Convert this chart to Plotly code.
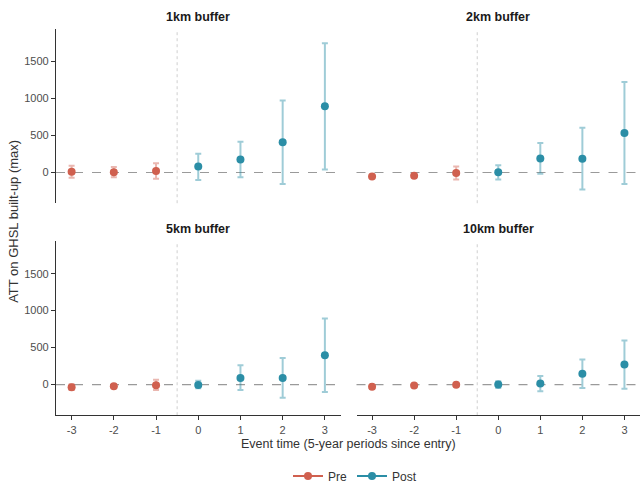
import plotly.graph_objects as go

periods = [-3, -2, -1, 0, 1, 2, 3]
panels = ["1km buffer", "2km buffer", "5km buffer", "10km buffer"]

est_1km = [10, 5, 20, 80, 175, 410, 895]
lo_1km = [-70, -65, -85, -100, -65, -155, 40]
hi_1km = [90, 75, 125, 255, 415, 975, 1750]

est_2km = [-55, -45, -5, 5, 190, 185, 535]
lo_2km = [-70, -62, -95, -95, -15, -230, -155]
hi_2km = [-40, -30, 80, 100, 400, 605, 1225]

est_5km = [-35, -22, -10, -5, 90, 90, 395]
lo_5km = [-75, -45, -75, -50, -75, -180, -100]
hi_5km = [5, 0, 65, 50, 260, 360, 895]

est_10km = [-31, -13, -2, 0, 15, 145, 270]
lo_10km = [-60, -30, -20, -45, -90, -45, -55]
hi_10km = [-5, 0, 15, 45, 115, 340, 595]

series = [(est_1km, lo_1km, hi_1km), (est_2km, lo_2km, hi_2km),
          (est_5km, lo_5km, hi_5km), (est_10km, lo_10km, hi_10km)]

PRE_C = "#D0604F"
POST_C = "#2B8EA6"
PRE_ERR = "rgba(208,96,79,0.45)"
POST_ERR = "rgba(43,142,166,0.45)"

W, H = 640, 491
xdom = [[56 / W, 340.5 / W], [356.5 / W, 1.0]]
ydom = [[1 - 207 / H, 1 - 30 / H], [1 - 423 / H, 1 - 246 / H]]

fig = go.Figure()
FONT = "Liberation Sans, Arial, sans-serif"

for i, (est, lo, hi) in enumerate(series):
    n = i + 1
    xa = "x" if n == 1 else f"x{n}"
    ya = "y" if n == 1 else f"y{n}"
    for grp, col, ecol in (("Pre", PRE_C, PRE_ERR), ("Post", POST_C, POST_ERR)):
        idx = [k for k, p in enumerate(periods) if (p < 0) == (grp == "Pre")]
        xs = [periods[k] for k in idx]
        ys = [est[k] for k in idx]
        ep = [hi[k] - est[k] for k in idx]
        em = [est[k] - lo[k] for k in idx]
        fig.add_trace(go.Scatter(
            x=xs, y=ys, mode="markers", xaxis=xa, yaxis=ya, showlegend=False,
            marker=dict(color=col, size=8, line=dict(width=0)),
            error_y=dict(type="data", array=ep, arrayminus=em, color=ecol,
                         thickness=2, width=3),
            hoverinfo="skip"))
    r, c = divmod(i, 2)
    fig.update_layout(**{
        ("xaxis" if n == 1 else f"xaxis{n}"): dict(
            domain=xdom[c], range=[-3.37, 3.37], anchor=ya,
            showgrid=False, zeroline=False,
            showline=(r == 1), linecolor="#333", linewidth=1.3,
            ticks="outside" if r == 1 else "", ticklen=4, tickcolor="#333",
            tickwidth=1, showticklabels=(r == 1),
            tickvals=periods, ticktext=[str(p) for p in periods],
            tickfont=dict(size=11, color="#4d4d4d", family=FONT)),
        ("yaxis" if n == 1 else f"yaxis{n}"): dict(
            domain=ydom[r], range=[-415, 1935], anchor=xa,
            showgrid=False, zeroline=False,
            showline=(c == 0), linecolor="#333", linewidth=1.3,
            ticks="outside" if c == 0 else "", ticklen=4, tickcolor="#333",
            tickwidth=1, showticklabels=(c == 0),
            tickvals=[0, 500, 1000, 1500],
            tickfont=dict(size=11, color="#4d4d4d", family=FONT)),
    })
    fig.add_shape(type="line", xref=f"{xa} domain", yref=ya, x0=0, x1=1, y0=0, y1=0,
                  line=dict(color="#9a9a9a", width=1.2, dash="dash"), layer="below")
    fig.add_shape(type="line", xref=xa, yref=f"{ya} domain", x0=-0.5, x1=-0.5, y0=0, y1=1,
                  line=dict(color="#cfcfcf", width=1, dash="dot"), layer="below")
    fig.add_annotation(text=f"<b>{panels[i]}</b>", xref=f"{xa} domain", yref=f"{ya} domain",
                       x=0.5, y=1.0, yshift=3, xanchor="center", yanchor="bottom",
                       showarrow=False, font=dict(size=12.5, color="#1a1a1a", family=FONT))

# legend entries
for grp, col in (("Pre", PRE_C), ("Post", POST_C)):
    fig.add_trace(go.Scatter(x=[None], y=[None], mode="lines+markers", name=grp,
                             marker=dict(color=col, size=8),
                             line=dict(color=col, width=2), showlegend=True))

fig.add_annotation(text="ATT on GHSL built-up (max)", xref="paper", yref="paper",
                   x=14 / W, y=1 - 226 / H, textangle=-90, showarrow=False,
                   xanchor="center", yanchor="middle",
                   font=dict(size=13, color="#333", family=FONT))
fig.add_annotation(text="Event time (5-year periods since entry)", xref="paper", yref="paper",
                   x=348 / W, y=1 - 452 / H, showarrow=False,
                   xanchor="center", yanchor="middle", borderpad=0,
                   font=dict(size=12.5, color="#333", family=FONT))

fig.update_layout(
    width=W, height=H, margin=dict(l=0, r=0, t=0, b=0),
    paper_bgcolor="white", plot_bgcolor="white",
    font=dict(family=FONT),
    legend=dict(orientation="h", x=355 / W, y=1 - 485 / H, xanchor="center", yanchor="middle",
                font=dict(size=12, color="#333", family=FONT), itemwidth=30,
                bgcolor="rgba(0,0,0,0)"),
)

fig.write_html("out.html", config={"displayModeBar": False},
               post_script="document.body.style.margin='0';")
